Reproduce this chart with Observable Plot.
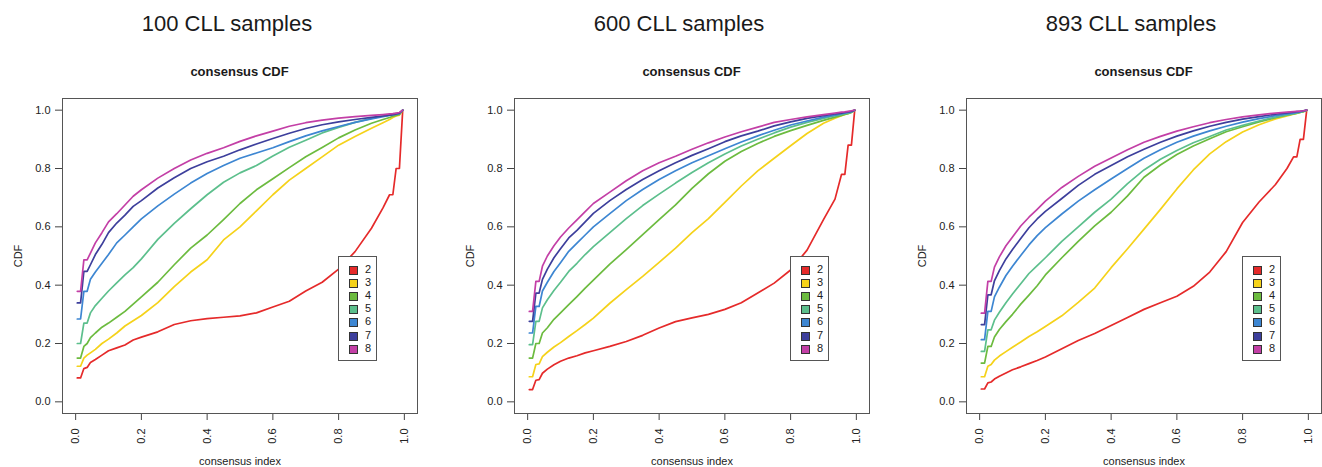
<!DOCTYPE html>
<html><head><meta charset="utf-8">
<script src="https://cdn.jsdelivr.net/npm/d3@7"></script>
<script src="https://cdn.jsdelivr.net/npm/@observablehq/plot@0.6"></script>
<style>
body{margin:0;background:#fff;width:1322px;height:467px;overflow:hidden;font-family:"Liberation Sans",Arial,sans-serif;position:relative;}
.panel{position:absolute;top:0;width:452px;height:467px;}
.title{position:absolute;left:0;width:454px;top:11px;text-align:center;font-size:22px;line-height:26px;color:#1a1a1a;}
.sub{position:absolute;left:62px;width:355px;top:64px;text-align:center;font-size:13px;font-weight:bold;line-height:16px;color:#1a1a1a;}
.chart{position:absolute;left:0;top:86px;}
.legend{position:absolute;border:1px solid #555;width:39px;height:105px;box-sizing:border-box;background:#fff;}
.lrow{position:absolute;left:0;height:13px;width:38px;}
.sw{position:absolute;left:10px;top:2px;width:7px;height:7px;border:1px solid #333;}
.lt{position:absolute;left:26px;top:-1px;font-size:11px;line-height:13px;color:#222;}
</style>
</head><body>
<script>
const panelTitles = ["100 CLL samples", "600 CLL samples", "893 CLL samples"];
const clusterK = ["2", "3", "4", "5", "6", "7", "8"];
const clusterColors = ["#e52a2a", "#f5d21a", "#6cbb3f", "#5cbf8c", "#3d86d2", "#3d3f9c", "#c33fa6"];
const axisTicks = [0, 0.2, 0.4, 0.6, 0.8, 1.0];
const legendAnchor = [0.8, 0.5];

const xGrid = [0.005, 0.015, 0.025, 0.035, 0.045, 0.06, 0.08, 0.1, 0.125, 0.15, 0.175, 0.2, 0.25, 0.3, 0.35, 0.4, 0.45, 0.5, 0.55, 0.6, 0.65, 0.7, 0.75, 0.8, 0.85, 0.9, 0.935, 0.955, 0.965, 0.975, 0.985, 0.995];

// 100 CLL samples
const cdf100_k2 = [0.082,0.082,0.114,0.118,0.135,0.145,0.16,0.175,0.185,0.195,0.212,0.222,0.24,0.265,0.278,0.285,0.29,0.295,0.305,0.325,0.345,0.38,0.41,0.455,0.515,0.595,0.665,0.71,0.71,0.80,0.80,1.0];
const cdf100_k3 = [0.122,0.122,0.15,0.16,0.168,0.18,0.2,0.215,0.236,0.26,0.278,0.296,0.34,0.395,0.445,0.487,0.555,0.60,0.655,0.71,0.76,0.80,0.84,0.88,0.91,0.938,0.957,0.968,0.975,0.98,0.983,1.0];
const cdf100_k4 = [0.15,0.15,0.19,0.20,0.22,0.236,0.256,0.27,0.29,0.31,0.335,0.36,0.41,0.47,0.527,0.572,0.625,0.68,0.727,0.765,0.803,0.84,0.872,0.905,0.932,0.955,0.968,0.975,0.979,0.982,0.985,1.0];
const cdf100_k5 = [0.20,0.20,0.27,0.27,0.305,0.33,0.355,0.38,0.408,0.435,0.46,0.49,0.557,0.612,0.662,0.71,0.753,0.785,0.81,0.843,0.873,0.897,0.922,0.941,0.958,0.972,0.98,0.984,0.986,0.988,0.99,1.0];
const cdf100_k6 = [0.284,0.284,0.379,0.379,0.42,0.445,0.475,0.505,0.545,0.572,0.6,0.627,0.672,0.712,0.75,0.783,0.81,0.835,0.853,0.871,0.892,0.912,0.929,0.944,0.958,0.97,0.978,0.982,0.984,0.986,0.988,1.0];
const cdf100_k7 = [0.339,0.339,0.447,0.447,0.47,0.505,0.54,0.58,0.613,0.64,0.67,0.69,0.733,0.768,0.80,0.823,0.842,0.864,0.884,0.903,0.921,0.937,0.95,0.96,0.968,0.975,0.98,0.983,0.985,0.987,0.99,1.0];
const cdf100_k8 = [0.379,0.379,0.487,0.487,0.51,0.545,0.58,0.617,0.645,0.675,0.705,0.727,0.767,0.80,0.829,0.852,0.871,0.893,0.912,0.928,0.945,0.957,0.966,0.973,0.978,0.982,0.985,0.987,0.988,0.99,0.992,1.0];

// 600 CLL samples
const cdf600_k2 = [0.042,0.042,0.074,0.076,0.098,0.112,0.127,0.139,0.15,0.158,0.168,0.175,0.19,0.207,0.228,0.253,0.275,0.288,0.30,0.317,0.34,0.373,0.407,0.452,0.52,0.625,0.695,0.78,0.78,0.88,0.88,1.0];
const cdf600_k3 = [0.086,0.086,0.128,0.13,0.155,0.17,0.188,0.203,0.224,0.244,0.265,0.287,0.338,0.385,0.43,0.478,0.527,0.58,0.628,0.684,0.74,0.792,0.835,0.878,0.92,0.955,0.972,0.981,0.985,0.989,0.993,1.0];
const cdf600_k4 = [0.15,0.15,0.20,0.20,0.236,0.254,0.283,0.305,0.333,0.361,0.39,0.417,0.472,0.522,0.573,0.625,0.675,0.732,0.782,0.825,0.858,0.886,0.91,0.93,0.948,0.965,0.976,0.982,0.985,0.988,0.992,1.0];
const cdf600_k5 = [0.196,0.196,0.276,0.276,0.322,0.35,0.382,0.41,0.447,0.475,0.505,0.532,0.58,0.628,0.673,0.712,0.75,0.786,0.82,0.85,0.877,0.90,0.922,0.942,0.958,0.972,0.981,0.985,0.988,0.99,0.993,1.0];
const cdf600_k6 = [0.236,0.236,0.327,0.327,0.38,0.41,0.447,0.477,0.516,0.544,0.572,0.60,0.645,0.69,0.728,0.762,0.792,0.82,0.844,0.868,0.891,0.912,0.931,0.949,0.963,0.976,0.983,0.988,0.99,0.992,0.995,1.0];
const cdf600_k7 = [0.276,0.276,0.373,0.373,0.42,0.455,0.494,0.525,0.562,0.588,0.617,0.646,0.69,0.728,0.762,0.792,0.82,0.845,0.868,0.892,0.912,0.928,0.946,0.96,0.972,0.981,0.987,0.99,0.992,0.994,0.996,1.0];
const cdf600_k8 = [0.31,0.31,0.413,0.413,0.465,0.50,0.535,0.565,0.596,0.624,0.652,0.68,0.719,0.758,0.792,0.82,0.842,0.866,0.888,0.908,0.926,0.942,0.958,0.968,0.977,0.985,0.99,0.993,0.994,0.996,0.998,1.0];

// 893 CLL samples
const cdf893_k2 = [0.044,0.044,0.065,0.068,0.078,0.088,0.099,0.11,0.12,0.131,0.142,0.154,0.182,0.21,0.234,0.262,0.289,0.317,0.34,0.362,0.396,0.445,0.515,0.615,0.685,0.745,0.80,0.84,0.84,0.90,0.90,1.0];
const cdf893_k3 = [0.086,0.086,0.122,0.128,0.143,0.157,0.172,0.187,0.205,0.224,0.24,0.258,0.295,0.341,0.39,0.46,0.525,0.592,0.66,0.73,0.795,0.85,0.892,0.925,0.95,0.97,0.98,0.986,0.989,0.992,0.995,1.0];
const cdf893_k4 = [0.133,0.133,0.19,0.19,0.222,0.248,0.275,0.30,0.335,0.366,0.398,0.435,0.494,0.55,0.603,0.65,0.706,0.77,0.812,0.848,0.877,0.902,0.926,0.943,0.96,0.974,0.983,0.987,0.99,0.992,0.995,1.0];
const cdf893_k5 = [0.173,0.173,0.247,0.247,0.28,0.307,0.34,0.37,0.405,0.44,0.467,0.494,0.55,0.60,0.65,0.695,0.748,0.795,0.832,0.862,0.888,0.91,0.932,0.948,0.963,0.976,0.984,0.988,0.99,0.993,0.996,1.0];
const cdf893_k6 = [0.213,0.213,0.31,0.31,0.36,0.393,0.433,0.465,0.502,0.538,0.57,0.597,0.644,0.688,0.727,0.764,0.8,0.835,0.864,0.89,0.911,0.929,0.945,0.959,0.971,0.981,0.987,0.99,0.992,0.994,0.997,1.0];
const cdf893_k7 = [0.265,0.265,0.367,0.367,0.415,0.45,0.49,0.522,0.56,0.597,0.627,0.653,0.697,0.742,0.78,0.81,0.84,0.866,0.89,0.911,0.929,0.945,0.958,0.969,0.978,0.986,0.991,0.993,0.995,0.996,0.998,1.0];
const cdf893_k8 = [0.304,0.304,0.413,0.413,0.462,0.497,0.535,0.565,0.603,0.633,0.66,0.688,0.735,0.773,0.808,0.836,0.864,0.89,0.91,0.928,0.943,0.957,0.968,0.977,0.984,0.99,0.993,0.995,0.996,0.997,0.998,1.0];

const panelSeries = [
  [cdf100_k2, cdf100_k3, cdf100_k4, cdf100_k5, cdf100_k6, cdf100_k7, cdf100_k8],
  [cdf600_k2, cdf600_k3, cdf600_k4, cdf600_k5, cdf600_k6, cdf600_k7, cdf600_k8],
  [cdf893_k2, cdf893_k3, cdf893_k4, cdf893_k5, cdf893_k6, cdf893_k7, cdf893_k8]
];

const PANEL_W = 452, SVG_TOP = 86;

panelTitles.forEach((title, p) => {
  const panel = document.createElement("div");
  panel.className = "panel";
  panel.style.left = (p * PANEL_W) + "px";
  document.body.appendChild(panel);

  const t = document.createElement("div");
  t.className = "title"; t.textContent = title; panel.appendChild(t);
  const s = document.createElement("div");
  s.className = "sub"; s.textContent = "consensus CDF"; panel.appendChild(s);

  const rows = [];
  panelSeries[p].forEach((arr, i) => {
    xGrid.forEach((x, j) => rows.push({x, y: arr[j], k: clusterK[i]}));
  });

  const chart = Plot.plot({
    width: PANEL_W, height: 381,
    marginTop: 12, marginBottom: 54, marginLeft: 62, marginRight: 35,
    x: {domain: [-0.04, 1.04]},
    y: {domain: [-0.04, 1.04]},
    color: {domain: clusterK, range: clusterColors},
    style: {fontFamily: '"Liberation Sans", Arial, sans-serif', fontSize: "11px", color: "#222", background: "transparent", overflow: "visible"},
    marks: [
      Plot.axisY(axisTicks, {tickFormat: d3.format(".1f"), tickSize: 7, tickPadding: 5, stroke: "#444", label: "CDF", labelAnchor: "center", labelOffset: 48, labelArrow: false}),
      Plot.axisX(axisTicks, {tickFormat: d3.format(".1f"), tickRotate: -90, tickSize: 7, tickPadding: 8, stroke: "#444", label: "consensus index", labelAnchor: "center", labelOffset: 51, labelArrow: false}),
      Plot.line(rows, {x: "x", y: "y", z: "k", stroke: "k", strokeWidth: 1.7, strokeLinejoin: "round"}),
      Plot.frame({stroke: "#555", strokeWidth: 1})
    ]
  });
  chart.classList.add("chart");
  chart.style.position = "absolute";
  chart.style.left = "0px";
  chart.style.top = SVG_TOP + "px";
  panel.appendChild(chart);

  const xs = chart.scale("x"), ys = chart.scale("y");
  const lg = document.createElement("div");
  lg.className = "legend";
  lg.style.left = xs.apply(legendAnchor[0]) + "px";
  lg.style.top = (SVG_TOP + ys.apply(legendAnchor[1])) + "px";
  clusterK.forEach((k, i) => {
    const r = document.createElement("div");
    r.className = "lrow";
    r.style.top = (7 + i * 13.2) + "px";
    const sw = document.createElement("div");
    sw.className = "sw"; sw.style.background = clusterColors[i];
    const lt = document.createElement("div");
    lt.className = "lt"; lt.textContent = k;
    r.appendChild(sw); r.appendChild(lt);
    lg.appendChild(r);
  });
  panel.appendChild(lg);
});
</script>
</body></html>
